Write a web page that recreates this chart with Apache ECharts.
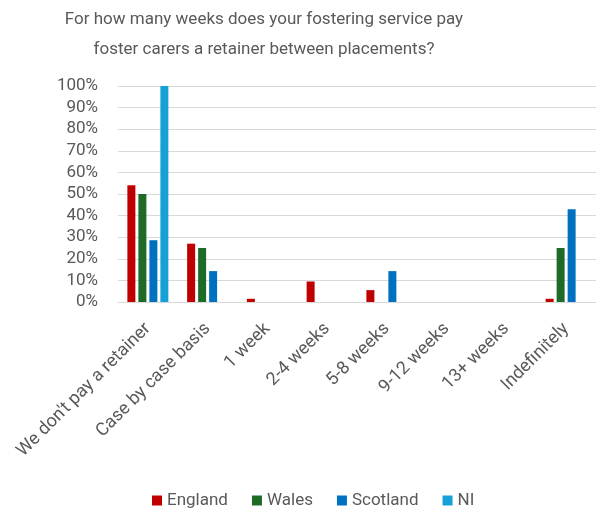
<!DOCTYPE html>
<html>
<head>
<meta charset="utf-8">
<script src="https://cdn.jsdelivr.net/npm/echarts@6/dist/echarts.min.js"></script>
<style>
  html, body { margin: 0; padding: 0; background: #fff; }
  #main { width: 596px; height: 510px; }
</style>
</head>
<body>
<div id="main"></div>
<script>
var categories = ["We don't pay a retainer", 'Case by case basis', '1 week', '2-4 weeks',
	'5-8 weeks', '9-12 weeks', '13+ weeks', 'Indefinitely'];
var england = [54, 27, 1.5, 9.5, 5.5, 0, 0, 1.5];
var wales = [50, 25, 0, 0, 0, 0, 0, 25];
var scotland = [28.6, 14.3, 0, 0, 14.3, 0, 0, 42.9];
var ni = [100, 0, 0, 0, 0, 0, 0, 0];
var yTicks = [0, 10, 20, 30, 40, 50, 60, 70, 80, 90, 100];

var font = 'Roboto';
var grey = '#595959';

var myChart = echarts.init(document.getElementById('main'));

function bar(name, data, color) {
	return {
		name: name,
		type: 'bar',
		data: data,
		barWidth: 8,
		barGap: '37.5%',
		itemStyle: { color: color },
		animation: false
	};
}

var option = {
	backgroundColor: '#ffffff',
	textStyle: { fontFamily: font },
	title: {
		text: 'For how many weeks does your fostering service pay\nfoster carers a retainer between placements?',
		left: 259,
		top: 0,
		textAlign: 'center',
		textStyle: {
			color: grey,
			fontSize: 17,
			fontWeight: 'normal',
			fontFamily: font,
			lineHeight: 30
		}
	},
	legend: {
		data: ['England', 'Wales', 'Scotland', 'NI'],
		left: 147,
		top: 487,
		icon: 'rect',
		itemWidth: 10,
		itemHeight: 10,
		itemGap: 24,
		textStyle: { color: grey, fontSize: 17, fontFamily: font }
	},
	grid: {
		left: 118,
		right: -3,
		top: 86,
		bottom: 208
	},
	xAxis: {
		type: 'category',
		data: categories,
		axisTick: { show: false },
		axisLine: { lineStyle: { color: '#d9d9d9', width: 1 } },
		axisLabel: {
			rotate: 45,
			interval: 0,
			margin: 24,
			color: grey,
			fontSize: 18,
			fontFamily: font
		}
	},
	yAxis: {
		type: 'value',
		min: 0,
		max: 100,
		interval: 10,
		axisLine: { show: false },
		axisTick: { show: false },
		splitLine: { lineStyle: { color: '#d9d9d9', width: 1 } },
		axisLabel: {
			margin: 20,
			color: grey,
			fontSize: 17,
			fontFamily: font,
			formatter: function (v) {
				return yTicks.indexOf(v) >= 0 ? v + '%' : '';
			}
		}
	},
	series: [
		bar('England', england, '#c00000'),
		bar('Wales', wales, '#1e6b28'),
		bar('Scotland', scotland, '#0070c0'),
		bar('NI', ni, '#16a0d8')
	]
};

myChart.setOption(option);
</script>
</body>
</html>
